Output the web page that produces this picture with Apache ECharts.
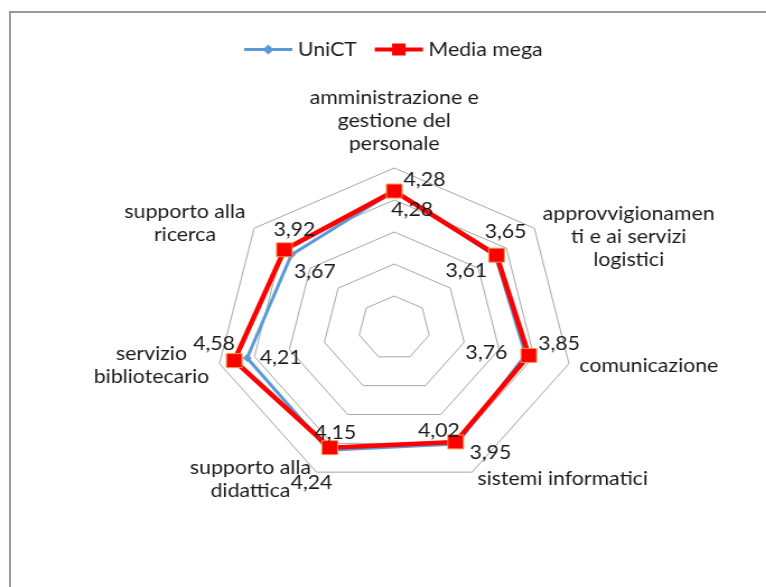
<!DOCTYPE html>
<html>
<head>
<meta charset="utf-8">
<script src="https://cdn.jsdelivr.net/npm/echarts@6/dist/echarts.min.js"></script>
<style>
html, body { margin: 0; padding: 0; background: #fff; overflow: hidden; }
.frame {
  position: absolute; left: 9px; top: 11px; width: 800px; height: 600px;
  border-left: 2px solid #999; border-top: 2px solid #999;
}
/* the original picture is stretched sideways, so the chart is too */
#main {
  position: absolute; left: 0; top: 0; width: 684px; height: 587px;
  transform: scaleX(1.12); transform-origin: 0 0;
}
</style>
</head>
<body>
<div class="frame"></div>
<div id="main"></div>
<script>
// clockwise, starting at the top
var categories = [
  'amministrazione e\ngestione del\npersonale',
  'approvvigionamen\nti e ai servizi\nlogistici',
  'comunicazione',
  'sistemi informatici',
  'supporto alla\ndidattica',
  'servizio\nbibliotecario',
  'supporto alla\nricerca'
];
var unict = [4.28, 3.61, 3.76, 4.02, 4.24, 4.21, 3.67];
var mediaMega = [4.28, 3.65, 3.85, 3.95, 4.15, 4.58, 3.92];
var axisMin = 0;
var axisMax = 5;

// where each value label sits, [dx, dy] from its point
var unictLabelOffset = [[16, 19], [-26, 15], [-35, -2], [-16, -13], [-15, 33], [30, 0], [21, 17]];
var megaLabelOffset = [[27, -11], [8, -23], [27, -12], [31, 11], [5, -15], [-18, -17], [9, -20]];
// blank space added above / below a category name (moves it down / up)
var namePadTop = [0, 28, 0, 0, 0, 0, 0];
var namePadBottom = [5, 0, 0, 0, 0, 0, 0];

var FONT = 'Lato';
var TEXT = '#1a1a1a';
var FS = 19;

// echarts radar goes counter clockwise
function ccw(a) { return [a[0]].concat(a.slice(1).reverse()); }

var ctx = document.createElement('canvas').getContext('2d');
ctx.font = FS + 'px ' + FONT;
function widest(t) {
  return Math.max.apply(null, t.split('\n').map(function (l) { return ctx.measureText(l).width; }));
}

var rich = {};
categories.forEach(function (c, i) {
  rich['n' + i] = { width: Math.ceil(widest(c)) + 2, align: 'center', fontSize: FS, fontFamily: FONT, color: TEXT, lineHeight: 23 };
  rich['t' + i] = { fontSize: FS, lineHeight: namePadTop[i] || 1 };
  rich['b' + i] = { fontSize: FS, lineHeight: namePadBottom[i] || 1 };
});

function fmt(p) {
  var v = p.value;
  if (v == null || v === '-' || isNaN(v)) return '';
  return Number(v).toFixed(2).replace('.', ',');
}

function labelItems(vals, offsets) {
  return vals.map(function (v, i) {
    var only = vals.map(function (x, j) { return j === i ? x : '-'; });
    return { value: ccw(only), label: { offset: offsets[i] } };
  });
}

var myChart = echarts.init(document.getElementById('main'));
var option = {
  animation: false,
  legend: {
    data: [
      { name: 'UniCT', icon: 'path://M0,5.6H43V8.4H0Z M21.5,2L26.5,7L21.5,12L16.5,7Z' },
      { name: 'Media mega', icon: 'path://M0,5H43V9H0Z M15.5,1H27.5V13H15.5Z' }
    ],
    left: 213,
    top: 35,
    itemWidth: 43,
    itemHeight: 14,
    itemGap: 16,
    selectedMode: false,
    itemStyle: { borderWidth: 0 },
    textStyle: { fontFamily: FONT, fontSize: FS, color: TEXT }
  },
  radar: {
    center: [352, 328],
    radius: 160,
    startAngle: 90,
    splitNumber: 5,
    shape: 'polygon',
    nameGap: 8,
    indicator: ccw(categories).map(function (n) { return { name: n, min: axisMin, max: axisMax }; }),
    axisName: {
      color: TEXT,
      fontFamily: FONT,
      fontSize: FS,
      lineHeight: 23,
      formatter: function (name) {
        var i = categories.indexOf(name);
        var s = name.split('\n').map(function (l) { return '{n' + i + '|' + l + '}'; }).join('\n');
        if (namePadTop[i]) s = '{t' + i + '| }\n' + s;
        if (namePadBottom[i]) s = s + '\n{b' + i + '| }';
        return s;
      },
      rich: rich
    },
    axisLine: { show: false },
    axisTick: { show: false },
    splitArea: { show: false },
    splitLine: { lineStyle: { color: '#a6a6a6', width: 1 } }
  },
  series: [
    {
      type: 'radar',
      z: 2,
      data: [
        {
          name: 'UniCT', value: ccw(unict),
          symbol: 'diamond', symbolSize: 8,
          lineStyle: { color: '#5b9bd5', width: 3 },
          itemStyle: { color: '#5b9bd5' }
        },
        {
          name: 'Media mega', value: ccw(mediaMega),
          symbol: 'rect', symbolSize: 14,
          lineStyle: { color: '#ff0000', width: 4.5 },
          itemStyle: { color: '#ff0000', borderColor: '#f79646', borderWidth: 1 }
        }
      ]
    },
    {
      // value labels only
      type: 'radar',
      z: 5,
      silent: true,
      symbol: 'circle',
      symbolSize: 1,
      itemStyle: { color: 'rgba(0,0,0,0)' },
      lineStyle: { width: 0, opacity: 0 },
      label: {
        show: true, position: 'inside',
        color: TEXT, fontFamily: FONT, fontSize: FS,
        formatter: fmt
      },
      data: labelItems(unict, unictLabelOffset).concat(labelItems(mediaMega, megaLabelOffset))
    }
  ]
};
myChart.setOption(option);
</script>
</body>
</html>
